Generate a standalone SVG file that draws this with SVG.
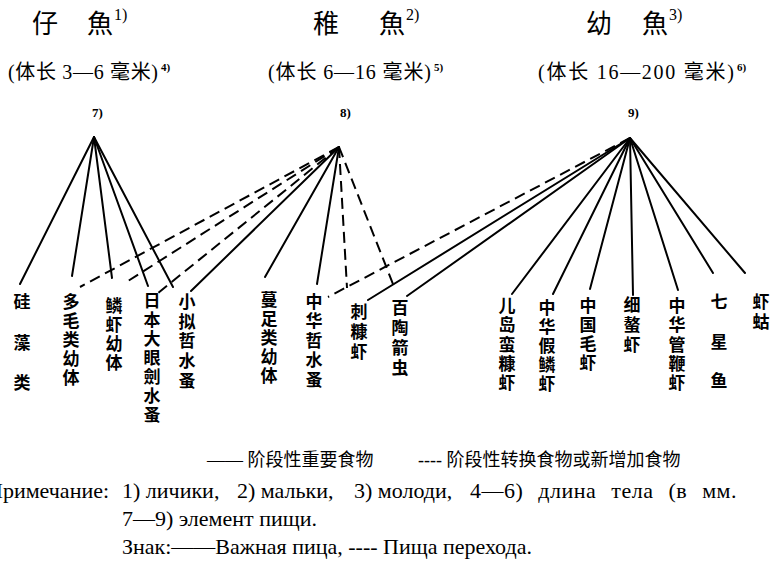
<svg xmlns="http://www.w3.org/2000/svg" width="771" height="564" viewBox="0 0 771 564">
<style>
.hd{font-family:"Noto Sans CJK SC","Noto Sans CJK TC",sans-serif;font-size:26px;fill:#000}
.sp{font-family:"Liberation Serif",serif;font-size:16px}
.sub{font-family:"Liberation Serif","Noto Sans CJK SC",serif;font-size:20px;fill:#000}
.ss{font-family:"Liberation Serif",serif;font-size:11px;font-weight:bold;fill:#000}
.num{font-family:"Liberation Serif",serif;font-size:13px;font-weight:bold;fill:#000}
.lbl{font-family:"Noto Sans CJK SC","Noto Sans CJK TC",sans-serif;font-size:17px;font-weight:700;text-anchor:middle;fill:#000}
.lg{font-family:"Liberation Serif","Noto Sans CJK SC",serif;font-size:18px;fill:#000}
.nt{font-family:"Liberation Serif",serif;font-size:22px;fill:#000}
.s{stroke:#000;stroke-width:2;fill:none;stroke-linecap:round}
.d{stroke:#000;stroke-width:2;fill:none;stroke-dasharray:11 6}
</style>

<g id="stage-headers">
  <g id="stage-1">
    <text class="hd" x="32" y="33">仔</text>
    <text class="hd" x="87" y="33">魚</text>
    <text class="sp" x="114" y="20">1)</text>
    <text class="sub" x="8" y="79" textLength="150" lengthAdjust="spacing">(体长 3—6 毫米)</text>
    <text class="ss" x="161" y="71">4)</text>
  </g>
  <g id="stage-2">
    <text class="hd" x="313" y="33">稚</text>
    <text class="hd" x="379" y="33">魚</text>
    <text class="sp" x="406" y="20">2)</text>
    <text class="sub" x="268" y="79" textLength="163" lengthAdjust="spacing">(体长 6—16 毫米)</text>
    <text class="ss" x="434" y="71">5)</text>
  </g>
  <g id="stage-3">
    <text class="hd" x="586" y="33">幼</text>
    <text class="hd" x="642" y="33">魚</text>
    <text class="sp" x="669" y="20">3)</text>
    <text class="sub" x="538" y="79" textLength="196" lengthAdjust="spacing">(体长 16—200 毫米)</text>
    <text class="ss" x="737" y="71">6)</text>
  </g>
</g>

<g id="hub-7"><text class="num" x="92" y="117">7)</text></g>
<g id="hub-8"><text class="num" x="340" y="117">8)</text></g>
<g id="hub-9"><text class="num" x="628" y="117">9)</text></g>

<g id="connectors">
  <line class="s" x1="94" y1="137" x2="20" y2="284"/>
  <line class="s" x1="94" y1="137" x2="72" y2="276"/>
  <line class="s" x1="94" y1="137" x2="112" y2="278"/>
  <line class="s" x1="94" y1="137" x2="148" y2="286"/>
  <line class="s" x1="94" y1="137" x2="173" y2="287"/>
  <line class="s" x1="339" y1="147" x2="191" y2="291"/>
  <line class="s" x1="339" y1="147" x2="265" y2="277"/>
  <line class="s" x1="339" y1="147" x2="317" y2="284"/>
  <line class="d" x1="339" y1="147" x2="80" y2="287"/>
  <line class="d" x1="339" y1="147" x2="128" y2="281"/>
  <line class="d" x1="339" y1="147" x2="158" y2="293"/>
  <line class="d" x1="339" y1="147" x2="347" y2="288"/>
  <line class="d" x1="339" y1="147" x2="393" y2="284"/>
  <line class="d" x1="630" y1="138" x2="328" y2="297"/>
  <line class="s" x1="630" y1="138" x2="368" y2="300"/>
  <line class="s" x1="630" y1="138" x2="407" y2="296"/>
  <line class="s" x1="630" y1="138" x2="512" y2="294"/>
  <line class="s" x1="630" y1="138" x2="553" y2="294"/>
  <line class="s" x1="630" y1="138" x2="590" y2="289"/>
  <line class="s" x1="630" y1="138" x2="633" y2="295"/>
  <line class="s" x1="630" y1="138" x2="678" y2="290"/>
  <line class="s" x1="630" y1="138" x2="713" y2="273"/>
  <line class="s" x1="630" y1="138" x2="745" y2="273"/>
</g>

<g id="n-guizaolei"><text class="lbl"><tspan x="22" y="308">硅</tspan><tspan x="22" y="349">藻</tspan><tspan x="22" y="389">类</tspan></text></g>
<g id="n-duomaolei"><text class="lbl"><tspan x="71" y="308">多</tspan><tspan x="71" y="327">毛</tspan><tspan x="71" y="346">类</tspan><tspan x="71" y="365">幼</tspan><tspan x="71" y="384">体</tspan></text></g>
<g id="n-linxia-youti"><text class="lbl"><tspan x="114" y="312">鳞</tspan><tspan x="114" y="331">虾</tspan><tspan x="114" y="350">幼</tspan><tspan x="114" y="369">体</tspan></text></g>
<g id="n-riben"><text class="lbl"><tspan x="152" y="307">日</tspan><tspan x="152" y="326">本</tspan><tspan x="152" y="345">大</tspan><tspan x="152" y="364">眼</tspan><tspan x="152" y="383">劍</tspan><tspan x="152" y="402">水</tspan><tspan x="152" y="421">蚤</tspan></text></g>
<g id="n-xiaoni"><text class="lbl"><tspan x="187" y="308">小</tspan><tspan x="187" y="328">拟</tspan><tspan x="187" y="347">哲</tspan><tspan x="187" y="367">水</tspan><tspan x="187" y="387">蚤</tspan></text></g>
<g id="n-manzu"><text class="lbl"><tspan x="269" y="306">蔓</tspan><tspan x="269" y="325">足</tspan><tspan x="269" y="344">类</tspan><tspan x="269" y="363">幼</tspan><tspan x="269" y="382">体</tspan></text></g>
<g id="n-zhonghua-zheshuizao"><text class="lbl"><tspan x="314" y="308">中</tspan><tspan x="314" y="327">华</tspan><tspan x="314" y="347">哲</tspan><tspan x="314" y="366">水</tspan><tspan x="314" y="386">蚤</tspan></text></g>
<g id="n-cikangxia"><text class="lbl"><tspan x="359" y="318">刺</tspan><tspan x="359" y="338">糠</tspan><tspan x="359" y="358">虾</tspan></text></g>
<g id="n-baitao"><text class="lbl"><tspan x="400" y="314">百</tspan><tspan x="400" y="334">陶</tspan><tspan x="400" y="354">箭</tspan><tspan x="400" y="374">虫</tspan></text></g>
<g id="n-erdao"><text class="lbl"><tspan x="507" y="312">儿</tspan><tspan x="507" y="331">岛</tspan><tspan x="507" y="351">蛮</tspan><tspan x="507" y="370">糠</tspan><tspan x="507" y="389">虾</tspan></text></g>
<g id="n-jialinxia"><text class="lbl"><tspan x="547" y="314">中</tspan><tspan x="547" y="333">华</tspan><tspan x="547" y="352">假</tspan><tspan x="547" y="371">鳞</tspan><tspan x="547" y="390">虾</tspan></text></g>
<g id="n-maoxia"><text class="lbl"><tspan x="588" y="312">中</tspan><tspan x="588" y="331">国</tspan><tspan x="588" y="350">毛</tspan><tspan x="588" y="369">虾</tspan></text></g>
<g id="n-xiaoaoxia"><text class="lbl"><tspan x="632" y="311">细</tspan><tspan x="632" y="331">螯</tspan><tspan x="632" y="351">虾</tspan></text></g>
<g id="n-guanbianxia"><text class="lbl"><tspan x="677" y="312">中</tspan><tspan x="677" y="331">华</tspan><tspan x="677" y="351">管</tspan><tspan x="677" y="370">鞭</tspan><tspan x="677" y="389">虾</tspan></text></g>
<g id="n-qixingyu"><text class="lbl"><tspan x="719" y="308">七</tspan><tspan x="719" y="348">星</tspan><tspan x="719" y="387">鱼</tspan></text></g>
<g id="n-xiagu"><text class="lbl"><tspan x="761" y="308">虾</tspan><tspan x="761" y="328">蛄</tspan></text></g>

<g id="legend">
  <text class="lg" x="207" y="466">—— 阶段性重要食物</text>
  <text class="lg" x="418" y="466">---- 阶段性转换食物或新增加食物</text>
</g>

<g id="notes">
  <text class="nt" x="-13" y="498">Примечание:</text>
  <text class="nt" x="122" y="498">1) личики,</text>
  <text class="nt" x="237" y="498">2) мальки,</text>
  <text class="nt" x="354" y="498">3) молоди,</text>
  <text class="nt" x="470" y="498" style="word-spacing:9px;letter-spacing:0.5px">4—6) длина тела (в мм.</text>
  <text class="nt" x="122" y="526">7—9) элемент пищи.</text>
  <text class="nt" x="122" y="554">Знак:——Важная пица, ---- Пища перехода.</text>
</g>
</svg>
